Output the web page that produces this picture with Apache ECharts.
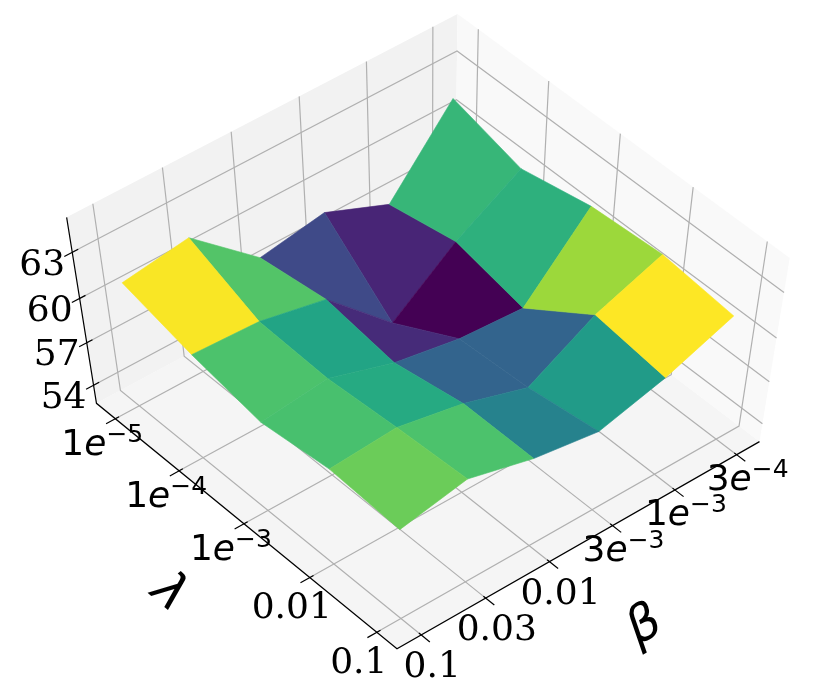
<!DOCTYPE html>
<html><head><meta charset="utf-8"><style>html,body{margin:0;padding:0;background:#fff}#c{width:830px;height:685px}</style>
<script src="https://cdn.jsdelivr.net/npm/echarts@6/dist/echarts.min.js"></script></head>
<body><div id="c"></div>
<script>
// ---- data ----
const lambdaLabels = ['1e-5', '1e-4', '1e-3', '0.01', '0.1'];
const betaLabels = ['0.1', '0.03', '0.01', '3e-3', '1e-3', '3e-4'];
const zTicks = [54, 57, 60, 63];
// rows follow lambdaLabels, columns follow betaLabels
const row1e5 = [61.2, 61.8, 58.2, 58.9, 57.2, 61.8];
const row1e4 = [60.0, 59.8, 58.9, 54.9, 58.1, 60.6];
const row1e3 = [59.1, 59.6, 58.2, 57.4, 57.1, 61.5];
const row001 = [59.7, 60.0, 59.1, 57.7, 60.2, 61.8];
const row01 = [59.4, 60.3, 59.1, 58.4, 59.6, 61.3];
const zValues = [row1e5, row1e4, row1e3, row001, row01];
const viridis = ['#440154','#482475','#414487','#355f8d','#2a788e','#21918c','#22a884','#44bf70','#7ad151','#bddf26','#fde725'];

// ---- 3D view: perspective camera, box coordinates run from -1 to 1 ----
const W = 830, H = 685;
const turn = 40 * Math.PI / 180, elev = 60 * Math.PI / 180, dist = 20;
const scaleX = 245.5, scaleY = 184.5, centerX = 427, centerY = 334;
const MARGIN = 0.87;
const nL = lambdaLabels.length, nB = betaLabels.length;
const boxX = i => -MARGIN + 2 * MARGIN * i / (nB - 1);
const boxY = r => MARGIN - 2 * MARGIN * r / (nL - 1);
const boxZ = z => -0.79 + 0.16 * (z - 54);
function depth(p) {
  const g = p[0] * Math.sin(turn) + p[1] * Math.cos(turn);
  return g * Math.cos(elev) - p[2] * Math.sin(elev);
}
function project(p) {
  const u = p[0] * Math.cos(turn) - p[1] * Math.sin(turn);
  const g = p[0] * Math.sin(turn) + p[1] * Math.cos(turn);
  const v = g * Math.sin(elev) + p[2] * Math.cos(elev);
  const w = 1 / (1 + depth(p) / dist);
  return [u * w, v * w];
}
const at = (api, p) => api.coord(project(p));
const shifted = (api, p, o) => { const c = at(api, p); return [c[0] + o[0], c[1] + o[1]]; };

// ---- colour scale ----
function hex2rgb(h) { return [1, 3, 5].map(k => parseInt(h.substr(k, 2), 16)); }
function colorAt(t) {
  const f = Math.max(0, Math.min(1, t)) * (viridis.length - 1);
  const a = Math.min(Math.floor(f), viridis.length - 2), m = f - a;
  const c0 = hex2rgb(viridis[a]), c1 = hex2rgb(viridis[a + 1]);
  return 'rgb(' + c0.map((v, k) => Math.round(v + (c1[k] - v) * m)).join(',') + ')';
}

// ---- faces ----
const faces = [];
for (let r = 0; r < nL - 1; r++) for (let c = 0; c < nB - 1; c++) {
  const v = [[r, c], [r, c + 1], [r + 1, c + 1], [r + 1, c]];
  const pts = v.map(q => [boxX(q[1]), boxY(q[0]), boxZ(zValues[q[0]][q[1]])]);
  const mean = v.reduce((s, q) => s + zValues[q[0]][q[1]], 0) / 4;
  const far = pts.reduce((s, q) => s + depth(q), 0) / 4;
  faces.push({ pts, mean, far });
}
const lo = Math.min(...faces.map(f => f.mean)), hi = Math.max(...faces.map(f => f.mean));
faces.sort((a, b) => b.far - a.far);

// ---- box furniture ----
const panes = [
  { fill: '#f5f5f5', pts: [[-1,-1,-1],[1,-1,-1],[1,1,-1],[-1,1,-1]] },
  { fill: '#f2f2f2', pts: [[-1,1,-1],[1,1,-1],[1,1,1],[-1,1,1]] },
  { fill: '#f9f9f9', pts: [[1,-1,-1],[1,1,-1],[1,1,1],[1,-1,1]] }
];
const gridLines = [];
betaLabels.forEach((_, i) => gridLines.push([[boxX(i),-1,-1],[boxX(i),1,-1],[boxX(i),1,1]]));
lambdaLabels.forEach((_, r) => gridLines.push([[-1,boxY(r),-1],[1,boxY(r),-1],[1,boxY(r),1]]));
zTicks.forEach(z => gridLines.push([[-1,1,boxZ(z)],[1,1,boxZ(z)],[1,-1,boxZ(z)]]));
const axisLines = [[[-1,1,1],[-1,1,-1],[-1,-1,-1],[1,-1,-1]]];
betaLabels.forEach((_, i) => axisLines.push([[boxX(i),-0.985,-1],[boxX(i),-1.055,-1]]));
lambdaLabels.forEach((_, r) => axisLines.push([[-0.98,boxY(r),-1],[-1.05,boxY(r),-1]]));
zTicks.forEach(z => axisLines.push([[-0.97,1,boxZ(z)],[-1.04,1,boxZ(z)]]));

// ---- text ----
const SERIF = '"DejaVu Serif"', SANS = '"DejaVu Sans"';
function tickText(s) {
  if (s.indexOf('e') < 0) return s;
  const p = s.split('e');
  return '{m|' + p[0] + '}{i|e}{s|\u2212' + p[1].replace('-', '') + '}';
}
const richStyle = {
  m: { fontFamily: SANS, fontSize: 36, fill: '#000', color: '#000' },
  i: { fontFamily: SANS, fontStyle: 'italic', fontSize: 36, color: '#000' },
  s: { fontFamily: SANS, fontSize: 25, color: '#000', padding: [0, 0, 20, 0] }
};
const labels = [];
lambdaLabels.forEach((s, r) => labels.push({
  text: tickText(s), anchor: [-1, boxY(r), -1],
  off: s.indexOf('e') < 0 ? [-18, 31] : [-13, 27]
}));
betaLabels.forEach((s, i) => labels.push({
  text: tickText(s), anchor: [boxX(i), -1, -1],
  off: s.indexOf('e') < 0 ? [11, 33] : [11, 26]
}));
zTicks.forEach(z => labels.push({ text: String(z), anchor: [-1, 1, boxZ(z)], off: [-30, 13] }));
const axisTitles = [
  { text: '\u03bb', anchor: [-1, 0, -1], off: [-75, 70], rot: -40 },
  { text: '\u03b2', anchor: [0, -1, -1], off: [64, 83], rot: 30 }
];

// ---- series ----
function layer(name, items, draw) {
  return { type: 'custom', name, coordinateSystem: 'cartesian2d', silent: true, clip: false,
    animation: false, data: items.map((_, k) => [k]), encode: { x: 0, y: 0 },
    renderItem: (params, api) => draw(items[api.value(0)], api) };
}
const polyShape = (pts, api) => ({ points: pts.map(p => at(api, p)) });

const option = {
  animation: false,
  backgroundColor: '#fff',
  grid: { left: 0, right: 0, top: 0, bottom: 0, containLabel: false },
  xAxis: { type: 'value', show: false, min: -centerX / scaleX, max: (W - centerX) / scaleX },
  yAxis: { type: 'value', show: false, min: (centerY - H) / scaleY, max: centerY / scaleY },
  series: [
    layer('panes', panes, (p, api) => ({ type: 'polygon', shape: polyShape(p.pts, api), style: { fill: p.fill, stroke: null } })),
    layer('grid', gridLines, (l, api) => ({ type: 'polyline', shape: polyShape(l, api), style: { fill: null, stroke: '#b0b0b0', lineWidth: 1.2 } })),
    layer('surface', faces, (f, api) => {
      const col = colorAt((f.mean - lo) / (hi - lo));
      return { type: 'polygon', shape: polyShape(f.pts, api), style: { fill: col, stroke: col, lineWidth: 0.6, lineJoin: 'round' } };
    }),
    layer('axes', axisLines, (l, api) => ({ type: 'polyline', shape: polyShape(l, api), style: { fill: null, stroke: '#000', lineWidth: 1.2 } })),
    layer('tick labels', labels, (t, api) => {
      const c = shifted(api, t.anchor, t.off);
      return { type: 'text', style: { text: t.text, x: c[0], y: c[1], align: 'center', verticalAlign: 'middle',
        fontFamily: SERIF, fontSize: 36, fill: '#000', rich: richStyle } };
    }),
    layer('axis titles', axisTitles, (t, api) => {
      const c = shifted(api, t.anchor, t.off);
      return { type: 'text', x: c[0], y: c[1], rotation: t.rot * Math.PI / 180,
        style: { text: t.text, x: 0, y: 0, align: 'center', verticalAlign: 'middle',
          fontFamily: SANS, fontStyle: 'italic', fontSize: 50, fill: '#000' } };
    })
  ]
};
echarts.init(document.getElementById('c'), null, { renderer: 'canvas', width: W, height: H }).setOption(option);
</script></body></html>
